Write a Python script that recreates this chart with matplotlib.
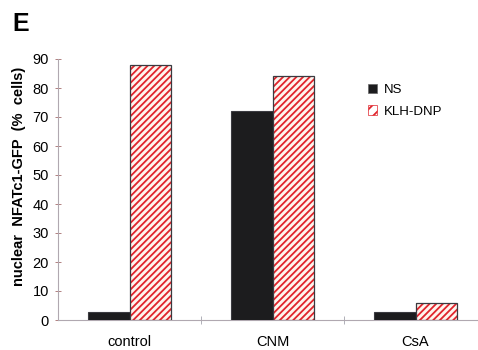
import numpy as np
import matplotlib.pyplot as plt

### Data ###

categories = ['control', 'CNM', 'CsA']
ns_values = [2.8, 72, 2.8]
klh_values = [88, 84, 5.7]
series_names = ['NS', 'KLH-DNP']
y_ticks = [0, 10, 20, 30, 40, 50, 60, 70, 80, 90]

### Plot ###

plt.rcParams['font.family'] = ['Liberation Sans', 'DejaVu Sans']
plt.rcParams['hatch.linewidth'] = 1.3

fig = plt.figure(figsize=(4.78, 3.5), dpi=100)
ax = fig.add_axes([58 / 478, 30 / 350, 419 / 478, 261 / 350])

x = np.arange(len(categories))
w = 0.287

# NS bars, solid black
ax.bar(x - w / 2, ns_values, w, color='#1c1c1e', edgecolor='#3a3a40', linewidth=0.8,
       zorder=3)

# KLH-DNP bars: red hatch on white, then dark outline on top
ax.bar(x + w / 2, klh_values, w, color='#fff4ee', edgecolor='#e0242c', hatch='/////',
       linewidth=0, zorder=3)
ax.bar(x + w / 2, klh_values, w, fill=False, edgecolor='#3a3a40', linewidth=0.9, zorder=4)

# legend proxies
h_ns = plt.Rectangle((0, 0), 1, 1, facecolor='#1c1c1e', edgecolor='#666666', linewidth=0.5)
h_klh = plt.Rectangle((0, 0), 1, 1, facecolor='white', edgecolor='#e0242c', hatch='///',
                      linewidth=0.5)
ax.legend([h_ns, h_klh], series_names, loc='upper left',
          bbox_to_anchor=(0.712, 0.95), frameon=False, fontsize=9.5,
          handlelength=0.7, handleheight=0.7, handletextpad=0.5,
          labelspacing=0.7)

ax.set_xlim(-0.5, 2.43)
ax.set_ylim(0, 90)
ax.set_yticks(y_ticks)
ax.set_yticklabels([str(t) for t in y_ticks], fontsize=10.5)

# category ticks sit on boundaries, labels sit under the centres
ax.set_xticks([0.5, 1.5])
ax.set_xticklabels([])
ax.set_xticks(x, minor=True)
ax.set_xticklabels(categories, minor=True, fontsize=10.5)
ax.tick_params(axis='x', which='minor', length=0, pad=11)
ax.tick_params(axis='x', which='major', direction='inout', length=6, color='#b0b0b8', width=0.7)
ax.tick_params(axis='y', direction='inout', length=5, color='#b08080', width=0.7, pad=4)

for side in ['top', 'right']:
    ax.spines[side].set_visible(False)
for side in ['left', 'bottom']:
    ax.spines[side].set_color('#b0a8b0')
    ax.spines[side].set_linewidth(0.8)

ax.set_ylabel('nuclear  NFATc1-GFP  (%  cells)', fontsize=10.5, fontweight='bold')
ax.yaxis.set_label_coords(-0.076, 0.55)

fig.text(12 / 478, 1 - 31 / 350, 'E', fontsize=18, fontweight='bold')

fig.savefig('out.png', dpi=100)
